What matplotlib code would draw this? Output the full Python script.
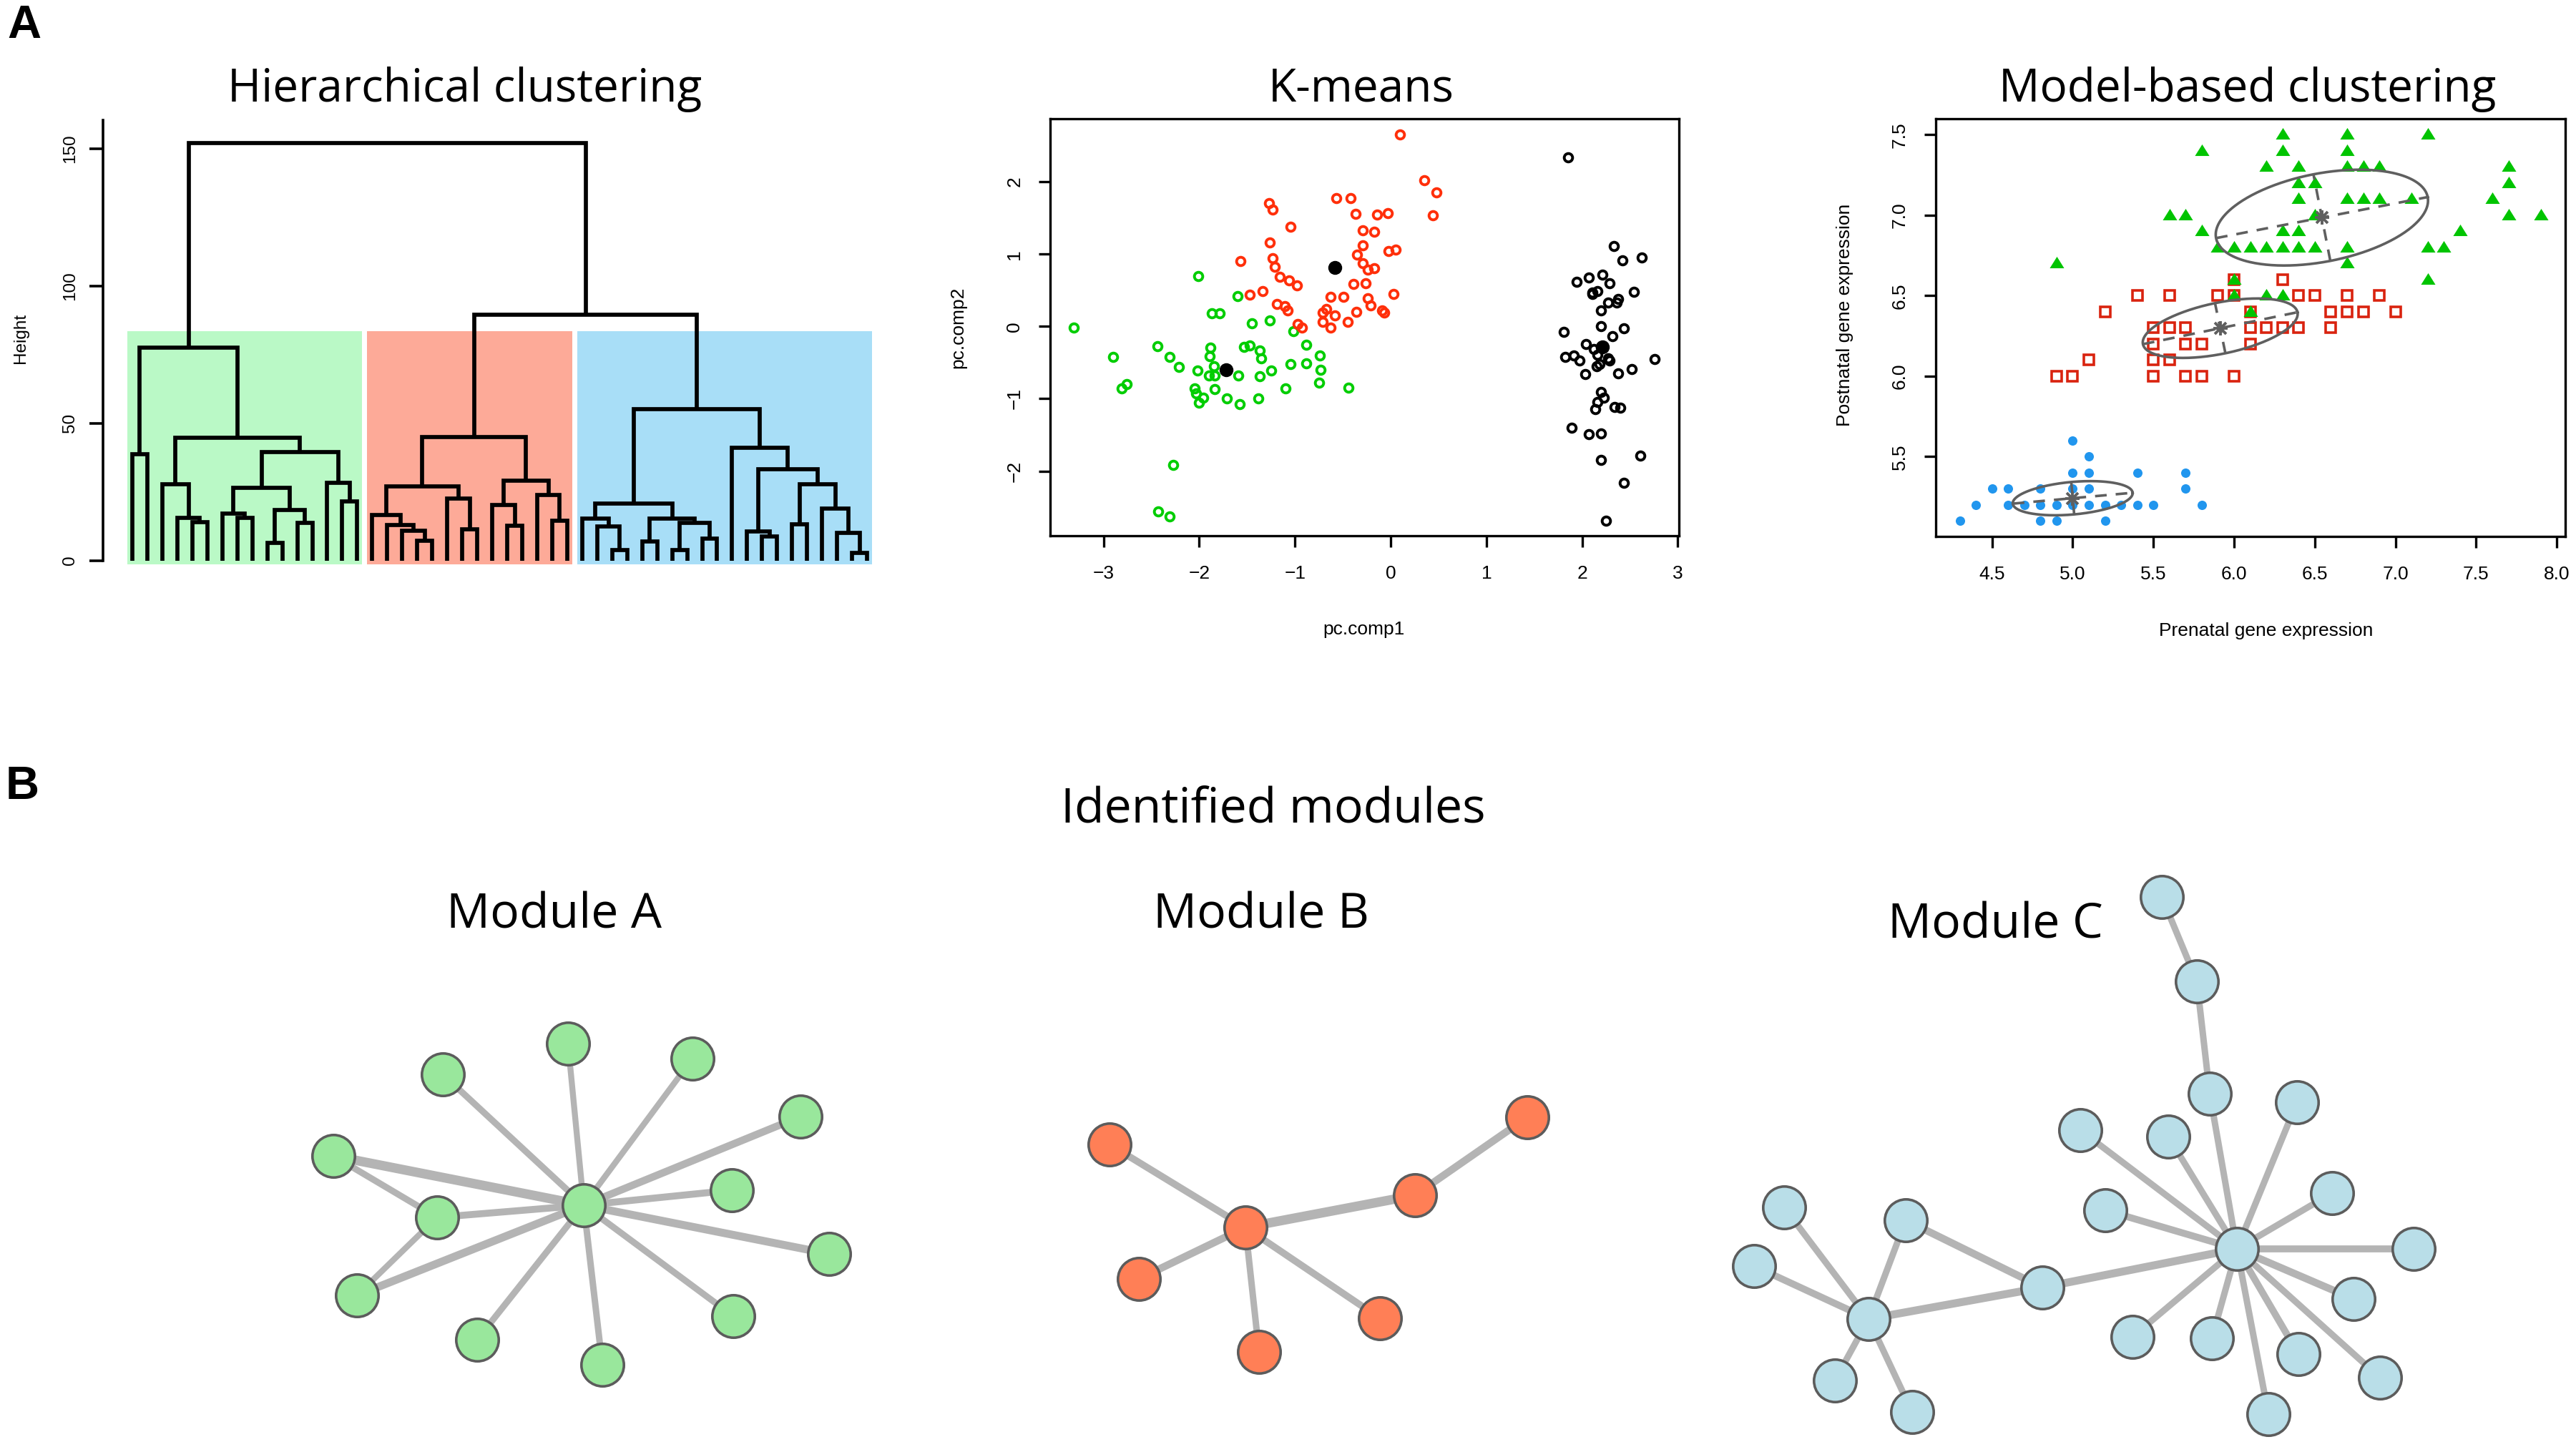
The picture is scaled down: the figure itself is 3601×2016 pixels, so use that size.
import numpy as np
import matplotlib
matplotlib.use("Agg")
import matplotlib.pyplot as plt

W, H = 3601, 2016
R_FONT = "Liberation Sans"   # R-like text (ticks, axis labels)
T_FONT = "Open Sans"         # titles / module labels
plt.rcParams['font.family'] = [R_FONT, 'DejaVu Sans']

# ---------------- data ----------------
# dendrogram: leaves 0..49 in display order, merges (left, right, height); new node ids start at 50
n_leaves = 50
merges = [
    (0, 1, 38.6), (4, 5, 14.0), (3, 51, 15.5), (2, 52, 27.9), (7, 8, 15.5),
    (6, 54, 17.0), (9, 10, 6.3), (11, 12, 13.6), (56, 57, 18.4), (55, 58, 26.6),
    (14, 15, 21.5), (13, 60, 28.2), (59, 61, 39.5), (53, 62, 44.6), (50, 63, 77.6),
    (19, 20, 7.3), (18, 65, 10.9), (17, 66, 13.0), (16, 67, 16.5), (22, 23, 11.4),
    (21, 69, 22.7), (68, 70, 26.9), (25, 26, 12.6), (24, 72, 20.2), (28, 29, 14.5),
    (27, 74, 24.0), (73, 75, 29.2), (71, 76, 44.9),
    (32, 33, 3.8), (31, 78, 12.4), (30, 79, 15.3), (34, 35, 7.0), (36, 37, 3.9),
    (38, 39, 7.9), (82, 83, 13.6), (81, 84, 15.3), (80, 85, 20.8), (42, 43, 8.8),
    (41, 87, 10.7), (44, 45, 13.3), (48, 49, 2.7), (47, 90, 10.2), (46, 91, 18.9),
    (89, 92, 27.9), (88, 93, 33.2), (40, 94, 41.1), (86, 95, 55.0), (77, 96, 89.4),
    (64, 97, 152.1),
]
clusters = [(0, 15), (16, 29), (30, 49)]
cluster_colors = ["#BAF9C6", "#FDAA98", "#A8DEF7"]

# K-means (pc.comp1, pc.comp2)
km_green = [(-3.31, -0.02), (-2.90, -0.42), (-2.81, -0.86), (-2.76, -0.80), (-2.44, -0.27),
            (-2.31, -0.42), (-2.21, -0.56), (-2.27, -1.92), (-2.43, -2.56), (-2.31, -2.63),
            (-2.01, 0.70), (-2.02, -0.61), (-2.05, -0.86), (-2.03, -0.93), (-2.00, -1.05),
            (-1.96, -0.99), (-1.87, 0.18), (-1.79, 0.18), (-1.88, -0.29), (-1.89, -0.41),
            (-1.85, -0.55), (-1.90, -0.68), (-1.84, -0.68), (-1.84, -0.87), (-1.71, -1.00),
            (-1.60, 0.42), (-1.59, -0.68), (-1.58, -1.07), (-1.53, -0.28), (-1.47, -0.26),
            (-1.45, 0.04), (-1.37, -0.33), (-1.35, -0.44), (-1.37, -0.69), (-1.38, -1.00),
            (-1.26, 0.08), (-1.25, -0.61), (-1.10, -0.86), (-1.05, -0.52), (-1.02, -0.07),
            (-0.88, -0.25), (-0.88, -0.51), (-0.74, -0.40), (-0.73, -0.60), (-0.75, -0.78),
            (-0.44, -0.85)]
km_red = [(0.10, 2.65), (0.35, 2.02), (0.48, 1.85), (0.44, 1.54), (-1.27, 1.70), (-1.23, 1.62),
          (-1.05, 1.38), (-1.26, 1.16), (-1.23, 0.94), (-1.21, 0.82), (-1.16, 0.69), (-1.57, 0.90),
          (-1.06, 0.64), (-0.98, 0.57), (-0.57, 1.77), (-0.42, 1.77), (-0.37, 1.56), (-0.14, 1.55),
          (-0.03, 1.57), (-0.29, 1.33), (-0.17, 1.31), (-0.29, 1.12), (-0.35, 0.99), (-0.29, 0.87),
          (-0.24, 0.78), (-0.17, 0.80), (-0.02, 1.04), (0.05, 1.06), (-0.39, 0.59), (-0.26, 0.60),
          (0.03, 0.45), (-1.47, 0.44), (-1.34, 0.49), (-1.19, 0.31), (-1.11, 0.28), (-1.08, 0.22),
          (-0.63, 0.41), (-0.49, 0.41), (-0.24, 0.39), (-0.21, 0.29), (-0.36, 0.20), (-0.09, 0.22),
          (-0.07, 0.19), (-0.71, 0.19), (-0.67, 0.24), (-0.58, 0.15), (-0.71, 0.06), (-0.63, -0.02),
          (-0.45, 0.06), (-0.97, 0.03), (-0.93, -0.02)]
km_black = [(1.85, 2.34), (2.33, 1.11), (2.42, 0.91), (2.62, 0.95), (1.94, 0.62), (2.07, 0.68),
            (2.21, 0.72), (2.29, 0.60), (2.11, 0.47), (2.16, 0.49), (2.11, 0.45), (2.54, 0.48),
            (2.20, 0.22), (2.27, 0.33), (2.36, 0.33), (2.38, 0.38), (2.20, 0.00), (2.44, -0.03),
            (1.81, -0.08), (2.32, -0.14), (2.04, -0.24), (2.12, -0.31), (2.20, -0.28), (2.16, -0.39),
            (1.82, -0.42), (1.91, -0.40), (1.97, -0.47), (2.27, -0.44), (2.29, -0.47), (2.18, -0.52),
            (2.15, -0.55), (2.76, -0.45), (2.52, -0.59), (2.38, -0.65), (2.03, -0.66), (2.20, -0.91),
            (2.23, -0.99), (2.16, -1.04), (2.14, -1.14), (2.34, -1.11), (2.40, -1.12), (1.89, -1.40),
            (2.07, -1.49), (2.20, -1.48), (2.61, -1.79), (2.20, -1.85), (2.44, -2.16), (2.25, -2.69)]
km_centroids = [(-1.72, -0.60), (-0.58, 0.81), (2.21, -0.28)]

# model-based clustering (prenatal, postnatal)
mb_blue = [(4.3, 5.1), (4.8, 5.1), (4.9, 5.1), (5.2, 5.1),
           (4.4, 5.2), (4.6, 5.2), (4.7, 5.2), (4.8, 5.2), (4.9, 5.2), (5.0, 5.2), (5.1, 5.2),
           (5.2, 5.2), (5.3, 5.2), (5.4, 5.2), (5.5, 5.2), (5.8, 5.2),
           (4.5, 5.3), (4.6, 5.3), (4.8, 5.3), (5.0, 5.3), (5.1, 5.3), (5.7, 5.3),
           (5.0, 5.4), (5.1, 5.4), (5.4, 5.4), (5.7, 5.4), (5.1, 5.5), (5.0, 5.6)]
mb_red = [(6.0, 6.6), (6.3, 6.6),
          (5.4, 6.5), (5.6, 6.5), (5.9, 6.5), (6.0, 6.5), (6.4, 6.5), (6.5, 6.5), (6.7, 6.5), (6.9, 6.5),
          (5.2, 6.4), (6.1, 6.4), (6.6, 6.4), (6.7, 6.4), (6.8, 6.4), (7.0, 6.4),
          (5.5, 6.3), (5.6, 6.3), (5.7, 6.3), (6.1, 6.3), (6.2, 6.3), (6.3, 6.3), (6.4, 6.3), (6.6, 6.3),
          (5.5, 6.2), (5.7, 6.2), (5.8, 6.2), (6.1, 6.2),
          (5.1, 6.1), (5.5, 6.1), (5.6, 6.1),
          (4.9, 6.0), (5.0, 6.0), (5.5, 6.0), (5.7, 6.0), (5.8, 6.0), (6.0, 6.0)]
mb_green = [(6.3, 7.5), (6.7, 7.5), (7.2, 7.5),
            (5.8, 7.4), (6.3, 7.4), (6.7, 7.4),
            (6.2, 7.3), (6.4, 7.3), (6.7, 7.3), (6.8, 7.3), (6.9, 7.3), (7.7, 7.3),
            (6.4, 7.2), (6.5, 7.2), (7.7, 7.2),
            (6.4, 7.1), (6.7, 7.1), (6.8, 7.1), (6.9, 7.1), (7.1, 7.1), (7.6, 7.1),
            (5.6, 7.0), (5.7, 7.0), (6.5, 7.0), (7.7, 7.0), (7.9, 7.0),
            (5.8, 6.9), (6.3, 6.9), (6.4, 6.9), (7.4, 6.9),
            (5.9, 6.8), (6.0, 6.8), (6.1, 6.8), (6.2, 6.8), (6.3, 6.8), (6.4, 6.8), (6.5, 6.8),
            (6.7, 6.8), (7.2, 6.8), (7.3, 6.8),
            (4.9, 6.7), (6.7, 6.7), (6.0, 6.6), (7.2, 6.6),
            (6.0, 6.5), (6.2, 6.5), (6.3, 6.5), (6.1, 6.4)]
mb_centers = [(5.0, 5.242), (5.914, 6.298), (6.544, 6.985)]
mb_semi_axes = [(0.373, 0.101), (0.489, 0.159), (0.668, 0.274)]
mb_angles_deg = [5.2, 11.7, 11.0]

# networks (layout coordinates)
modA_nodes = [(816, 1685), (794, 1459), (968, 1480), (619, 1502), (1119, 1561), (466, 1616),
              (1023, 1664), (611, 1702), (1159, 1753), (499, 1811), (1025, 1840), (667, 1873),
              (842, 1908)]
modA_edges = [(0, 1), (0, 2), (0, 3), (0, 4), (0, 5), (0, 6), (0, 7), (0, 8), (0, 9), (0, 10),
              (0, 11), (0, 12), (5, 7), (7, 9)]
modA_weights = [6, 6, 6.5, 7.5, 9.5, 7, 7, 8, 8, 6.5, 6.5, 6.5, 6.5, 6]

modB_nodes = [(1741, 1716), (1551, 1600), (2135, 1562), (1978, 1671), (1592, 1788), (1760, 1890),
              (1929, 1843)]
modB_edges = [(0, 1), (0, 3), (0, 4), (0, 5), (0, 6), (3, 2)]
modB_weights = [7, 9.5, 7.5, 6.5, 7, 7.5]

modC_nodes = [(3022, 1254), (3071, 1372), (3089, 1529), (3211, 1541), (2908, 1580), (3031, 1589),
              (3260, 1668), (2943, 1692), (2494, 1688), (2664, 1706), (3127, 1746), (3374, 1746),
              (2452, 1770), (2855, 1800), (3290, 1816), (2612, 1844), (2981, 1869), (3092, 1871),
              (3213, 1893), (3327, 1926), (2565, 1930), (2673, 1974), (3171, 1977)]
modC_edges = [(0, 1), (1, 2), (2, 10), (3, 10), (4, 10), (5, 10), (6, 10), (7, 10), (11, 10),
              (13, 10), (14, 10), (16, 10), (17, 10), (18, 10), (19, 10), (22, 10), (13, 15),
              (13, 9), (15, 9), (15, 8), (15, 12), (15, 20), (15, 21)]
modC_weights = [6.5, 6.5, 6.5, 6.5, 6.5, 6.5, 6.5, 7, 7, 8, 7.5, 6.5, 6.5, 7, 6.5, 6.5, 8, 7.5,
                6.5, 6.5, 7, 6.5, 6.5]

# ---------------- figure ----------------
fig = plt.figure(figsize=(W / 100, H / 100), dpi=100)


def px_axes(l, t, r, b):
    return fig.add_axes([l / W, 1 - b / H, (r - l) / W, (b - t) / H])


def fig_text(x, y, s, **kw):
    return fig.text(x / W, 1 - y / H, s, **kw)


# network canvas (whole figure, pixel-like layout units)
net = fig.add_axes([0, 0, 1, 1])
net.set_xlim(0, W)
net.set_ylim(H, 0)
net.axis('off')


def draw_module(nodes, edges, weights, fill):
    pts = np.array(nodes, dtype=float)
    for (i, j), w in zip(edges, weights):
        net.plot(pts[[i, j], 0], pts[[i, j], 1], color='#B4B4B4', lw=w,
                 solid_capstyle='butt', zorder=1)
    net.scatter(pts[:, 0], pts[:, 1], s=1830, facecolor=fill, edgecolor='#5C5C5C',
                linewidths=2.6, zorder=2)


draw_module(modA_nodes, modA_edges, modA_weights, '#99E79C')
draw_module(modB_nodes, modB_edges, modB_weights, '#FF7F56')
draw_module(modC_nodes, modC_edges, modC_weights, '#B9DEE8')

# ---- dendrogram ----
ax1 = px_axes(143.9, 150.1, 1253.2, 807.1)
ax1.set_xlim(-0.96, 51.96)
ax1.set_ylim(-6.1, 165)
xpos = {i: i + 1.0 for i in range(n_leaves)}
hgt = {i: 0.0 for i in range(n_leaves)}
for k, (a, b, h) in enumerate(merges):
    ax1.plot([xpos[a], xpos[a], xpos[b], xpos[b]], [hgt[a], h, h, hgt[b]],
             color='black', lw=4.1, solid_joinstyle='miter', solid_capstyle='butt', zorder=3)
    xpos[n_leaves + k] = (xpos[a] + xpos[b]) / 2
    hgt[n_leaves + k] = h
# cut between the 3-cluster and 2-cluster merge heights (as rect.hclust)
top_heights = sorted([m[2] for m in merges], reverse=True)
rect_top = np.mean(top_heights[1:3])
for (first, last), c in zip(clusters, cluster_colors):
    x0, x1 = first + 1 - 0.34, last + 1 + 0.33
    ax1.bar((x0 + x1) / 2, rect_top + 1.5, width=x1 - x0, bottom=-1.5, color=c, lw=0, zorder=1)
for side in ['top', 'right', 'bottom']:
    ax1.spines[side].set_visible(False)
ax1.spines['left'].set_bounds(0, 160.4)
ax1.spines['left'].set_linewidth(2.6)
ax1.set_xticks([])
ax1.set_yticks([0, 50, 100, 150], ['0', '50', '100', '150'], rotation=90, va='center')
ax1.tick_params(axis='y', direction='out', length=14, width=2.6, labelsize=17.5, pad=11)
fig_text(29, 473, 'Height', rotation=90, ha='center', va='center', fontsize=17.5)


def r_box(ax):
    for sp in ax.spines.values():
        sp.set_linewidth(2.4)
    ax.tick_params(direction='out', length=11.5, width=2.4, labelsize=19)
    ax.tick_params(axis='x', pad=18)
    ax.tick_params(axis='y', pad=16)


# ---- K-means ----
ax2 = px_axes(1468.4, 165.8, 2347.4, 749.3)
for pts, c in [(km_green, '#00CD00'), (km_red, '#FF2F0A'), (km_black, 'black')]:
    p = np.array(pts)
    ax2.plot(p[:, 0], p[:, 1], 'o', mfc='none', mec=c, ms=8.4, mew=2.8)
cen = np.array(km_centroids)
ax2.plot(cen[:, 0], cen[:, 1], 'o', color='black', ms=14, mew=0)
ax2.set_xlim(-3.555, 3.015)
ax2.set_ylim(-2.897, 2.873)
ax2.set_xticks(range(-3, 4))
ax2.set_yticks(range(-2, 3), [str(v).replace('-', '\u2212') for v in range(-2, 3)],
               rotation=90, va='center')
r_box(ax2)
fig_text(1906, 887, 'pc.comp1', ha='center', va='baseline', fontsize=19)
fig_text(1339, 458, 'pc.comp2', rotation=90, ha='center', va='center', fontsize=19)

# ---- model-based ----
ax3 = px_axes(2705.7, 165.8, 3585.5, 750.3)
tri = [(-1, -0.65), (1, -0.65), (0, 0.95), (-1, -0.65)]
p = np.array(mb_blue)
ax3.plot(p[:, 0], p[:, 1], 'o', color='#2196EE', ms=9.4, mew=0)
p = np.array(mb_red)
ax3.plot(p[:, 0], p[:, 1], 's', mfc='none', mec='#D9230F', ms=10.5, mew=2.6)
p = np.array(mb_green)
ax3.plot(p[:, 0], p[:, 1], marker=tri, ls='none', color='#00C400', ms=14.5, mew=0)
t = np.linspace(0, 2 * np.pi, 300)
for (cx, cy), (a, b), ang in zip(mb_centers, mb_semi_axes, mb_angles_deg):
    th = np.deg2rad(ang)
    u = np.array([np.cos(th), np.sin(th)])
    v = np.array([-np.sin(th), np.cos(th)])
    ex = cx + a * u[0] * np.cos(t) + b * v[0] * np.sin(t)
    ey = cy + a * u[1] * np.cos(t) + b * v[1] * np.sin(t)
    ax3.plot(ex, ey, color='#5F5F5F', lw=2.6, zorder=4)
    for vec, L in [(u, a), (v, b)]:
        ax3.plot([cx - L * vec[0], cx + L * vec[0]], [cy - L * vec[1], cy + L * vec[1]],
                 color='#5F5F5F', lw=2.6, ls=(0, (4.5, 3.5)), zorder=4)
    ax3.plot([cx], [cy], marker='+', color='#5F5F5F', ms=15, mew=2.8, zorder=5)
    ax3.plot([cx], [cy], marker='x', color='#5F5F5F', ms=11, mew=2.8, zorder=5)
ax3.set_xlim(4.15, 8.05)
ax3.set_ylim(5.003, 7.60)
xt = [4.5, 5.0, 5.5, 6.0, 6.5, 7.0, 7.5, 8.0]
ax3.set_xticks(xt, [f'{v:.1f}' for v in xt])
yt = [5.5, 6.0, 6.5, 7.0, 7.5]
ax3.set_yticks(yt, [f'{v:.1f}' for v in yt], rotation=90, va='center')
r_box(ax3)
fig_text(3168, 889, 'Prenatal gene expression', ha='center', va='baseline', fontsize=19)
fig_text(2579, 440, 'Postnatal gene expression', rotation=90, ha='center', va='center',
         fontsize=19)

# ---- titles / labels ----
for x, s in [(650, 'Hierarchical clustering'), (1903, 'K-means'), (3142, 'Model-based clustering')]:
    fig_text(x, 142, s, ha='center', va='baseline', fontsize=46, family=[T_FONT, 'DejaVu Sans'])
fig_text(1780, 1149, 'Identified modules', ha='center', va='baseline', fontsize=49,
         family=[T_FONT, 'DejaVu Sans'])
for x, y, s in [(774, 1297, 'Module A'), (1763, 1298, 'Module B'), (2789, 1312, 'Module C')]:
    fig_text(x, y, s, ha='center', va='baseline', fontsize=49, family=[T_FONT, 'DejaVu Sans'])
fig_text(10, 53, 'A', ha='left', va='baseline', fontsize=47, fontweight='bold')
fig_text(8, 1117, 'B', ha='left', va='baseline', fontsize=47, fontweight='bold')

fig.savefig('out.png', dpi=100)
